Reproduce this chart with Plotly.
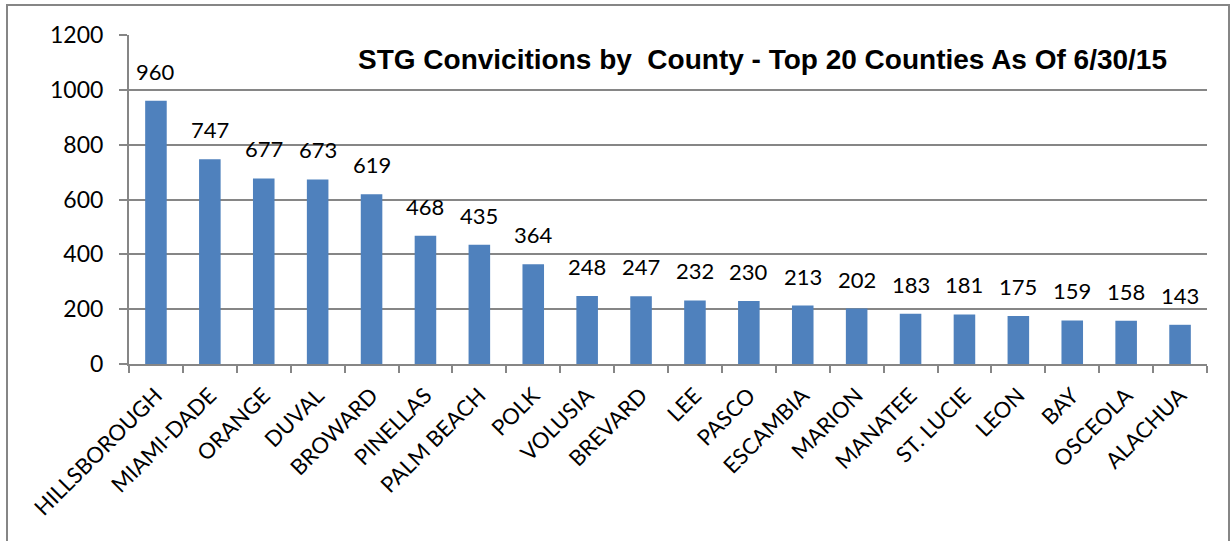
import plotly.graph_objects as go

counties = ["HILLSBOROUGH", "MIAMI-DADE", "ORANGE", "DUVAL", "BROWARD", "PINELLAS",
            "PALM BEACH", "POLK", "VOLUSIA", "BREVARD", "LEE", "PASCO", "ESCAMBIA",
            "MARION", "MANATEE", "ST. LUCIE", "LEON", "BAY", "OSCEOLA", "ALACHUA"]
convictions = [960, 747, 677, 673, 619, 468, 435, 364, 248, 247, 232, 230, 213,
               202, 183, 181, 175, 159, 158, 143]
y_ticks = [0, 200, 400, 600, 800, 1000, 1200]
title_text = "STG Convicitions by\u00a0 County - Top 20 Counties As Of 6/30/15"

W, H = 1230, 541
L, R, T, B = 129, 23, 35, 177
pw, ph = W - L - R, H - T - B

def px_x(p):
    return (p - L) / pw

def px_y(p):
    return (H - B - p) / ph

LABEL_FONT = "Lato, Open Sans, sans-serif"

fig = go.Figure()
fig.add_trace(go.Bar(
    x=counties, y=convictions,
    marker=dict(color="#4F81BD", line=dict(width=0)),
    hoverinfo="x+y",
))

annotations = [dict(
    x=c, y=v, xref="x", yref="y", text=str(v), showarrow=False,
    xanchor="center", yanchor="bottom", yshift=14,
    font=dict(family=LABEL_FONT, size=22, color="#000000"),
) for c, v in zip(counties, convictions)]

annotations.append(dict(
    text="<b>" + title_text + "</b>",
    x=px_x(762), y=px_y(60), xref="paper", yref="paper",
    xanchor="center", yanchor="middle", showarrow=False,
    font=dict(family="Liberation Sans, Arial, sans-serif", size=28, color="#000000"),
))

fig.update_layout(
    width=W, height=H,
    margin=dict(l=L, r=R, t=T, b=B, autoexpand=False),
    paper_bgcolor="white", plot_bgcolor="white",
    bargap=0.6,
    showlegend=False,
    font=dict(family=LABEL_FONT, color="#000000"),
    xaxis=dict(
        type="category",
        tickangle=-45,
        tickfont=dict(size=22, color="#000000"),
        showline=True, linecolor="#868686", linewidth=2,
        ticks="outside", ticklen=7, tickcolor="#868686", tickwidth=2,
        tickson="boundaries",
        ticklabelstandoff=8,
        showgrid=False,
        automargin=False,
    ),
    yaxis=dict(
        range=[0, 1200],
        tickvals=y_ticks,
        ticktext=[str(v) for v in y_ticks],
        tickfont=dict(size=23, color="#000000"),
        showline=True, linecolor="#868686", linewidth=2,
        ticks="outside", ticklen=8, tickcolor="#868686", tickwidth=2,
        ticklabelstandoff=11,
        showgrid=True, gridcolor="#868686", gridwidth=2,
        zeroline=False,
        automargin=False,
    ),
    annotations=annotations,
    shapes=[dict(
        type="rect", xref="paper", yref="paper",
        x0=px_x(7), x1=px_x(1229), y0=px_y(560), y1=px_y(5),
        line=dict(color="#868686", width=2), fillcolor="rgba(0,0,0,0)",
        layer="below",
    )],
)

fig.write_html(
    "out.html",
    config={"displayModeBar": False},
    post_script="document.body.style.margin='0';document.body.style.padding='0';",
)
